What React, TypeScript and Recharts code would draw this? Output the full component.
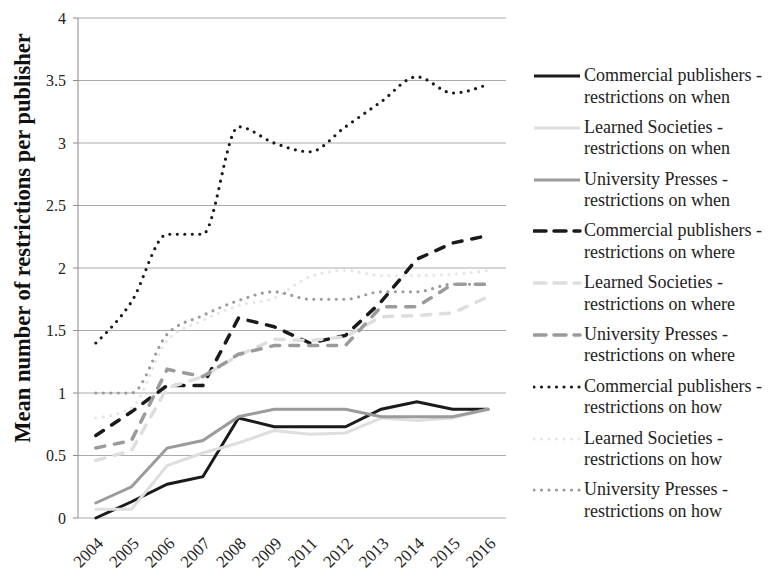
import { LineChart, Line, XAxis, YAxis, CartesianGrid, Legend } from 'recharts';

const years = ['2004', '2005', '2006', '2007', '2008', '2009', '2011', '2012', '2013', '2014', '2015', '2016'];
const yTicks = [0, 0.5, 1, 1.5, 2, 2.5, 3, 3.5, 4];

const commWhen = [0, 0.13, 0.27, 0.33, 0.8, 0.73, 0.73, 0.73, 0.87, 0.93, 0.87, 0.87];
const learnWhen = [0.07, 0.07, 0.42, 0.52, 0.6, 0.7, 0.67, 0.68, 0.8, 0.78, 0.8, 0.87];
const univWhen = [0.12, 0.25, 0.56, 0.62, 0.81, 0.87, 0.87, 0.87, 0.81, 0.81, 0.81, 0.87];
const commWhere = [0.66, 0.85, 1.06, 1.06, 1.6, 1.53, 1.4, 1.46, 1.73, 2.07, 2.2, 2.26];
const learnWhere = [0.46, 0.54, 1.04, 1.13, 1.3, 1.43, 1.42, 1.45, 1.61, 1.62, 1.64, 1.77];
const univWhere = [0.56, 0.62, 1.19, 1.13, 1.31, 1.38, 1.38, 1.38, 1.69, 1.69, 1.87, 1.87];
const commHow = [1.4, 1.73, 2.27, 2.27, 3.13, 3.0, 2.93, 3.13, 3.33, 3.53, 3.4, 3.47];
const learnHow = [0.8, 0.88, 1.42, 1.58, 1.7, 1.76, 1.93, 1.98, 1.94, 1.94, 1.95, 1.98];
const univHow = [1.0, 1.0, 1.47, 1.62, 1.74, 1.81, 1.75, 1.75, 1.81, 1.81, 1.87, 1.87];

const BLACK = '#1a1a1a';
const LIGHT = '#dedede';
const MID = '#9b9b9b';
const FONT = '"Liberation Serif", "Times New Roman", serif';

const DASH = '9 10';
const DOT = '0 7.5';

const series = [
  { key: 'commWhen', values: commWhen, name: ['Commercial publishers -', 'restrictions on when'], color: BLACK, dash: undefined, width: 3, type: 'linear' },
  { key: 'learnWhen', values: learnWhen, name: ['Learned Societies -', 'restrictions on when'], color: LIGHT, dash: undefined, width: 3, type: 'linear' },
  { key: 'univWhen', values: univWhen, name: ['University Presses -', 'restrictions on when'], color: MID, dash: undefined, width: 3, type: 'linear' },
  { key: 'commWhere', values: commWhere, name: ['Commercial publishers -', 'restrictions on where'], color: BLACK, dash: DASH, width: 3.5, type: 'linear' },
  { key: 'learnWhere', values: learnWhere, name: ['Learned Societies -', 'restrictions on where'], color: LIGHT, dash: DASH, width: 3.5, type: 'linear' },
  { key: 'univWhere', values: univWhere, name: ['University Presses -', 'restrictions on where'], color: MID, dash: DASH, width: 3.5, type: 'linear' },
  { key: 'commHow', values: commHow, name: ['Commercial publishers -', 'restrictions on how'], color: BLACK, dash: DOT, width: 3.2, type: 'monotone' },
  { key: 'learnHow', values: learnHow, name: ['Learned Societies -', 'restrictions on how'], color: '#e6e6e6', dash: DOT, width: 3.2, type: 'monotone' },
  { key: 'univHow', values: univHow, name: ['University Presses -', 'restrictions on how'], color: MID, dash: DOT, width: 3.2, type: 'monotone' },
];

const data = years.map((year, i) => {
  const row: Record<string, any> = { year };
  series.forEach(s => { row[s.key] = s.values[i]; });
  return row;
});

const boundaries = years.map((_, i) => i).concat(years.length);

const LegendBox = () => (
  <div style={{ fontFamily: FONT, fontSize: 18, color: '#222' }}>
    {series.map(s => (
      <div key={s.key} style={{ display: 'flex', alignItems: 'flex-start', height: 51.8 }}>
        <svg width={51} height={22} style={{ flex: 'none' }}>
          <line x1={1} y1={11} x2={47} y2={11} stroke={s.color} strokeWidth={s.width}
            strokeDasharray={s.dash === DASH ? '12 8' : s.dash} strokeLinecap={s.dash ? 'round' : 'butt'} />
        </svg>
        <div style={{ lineHeight: '21.5px', whiteSpace: 'nowrap' }}>
          {s.name[0]}<br />{s.name[1]}
        </div>
      </div>
    ))}
  </div>
);

const YTitle = (props: any) => {
  const vb = props.viewBox || { x: 0, y: 18, width: 78, height: 500 };
  const x = vb.x + 22;
  const y = vb.y + vb.height / 2 - 30;
  return (
    <text transform={`translate(${x},${y}) rotate(-90)`} textAnchor="middle" dominantBaseline="central"
      style={{ fontFamily: FONT, fontSize: 22.5, fontWeight: 'bold', fill: '#111' }}>
      Mean number of restrictions per publisher
    </text>
  );
};

export default function App() {
  return (
    <div style={{ position: 'absolute', left: 0, top: 0, width: 768, height: 572, background: '#fff' }}>
      <LineChart width={768} height={572} data={data} margin={{ top: 18, right: 27, bottom: 0, left: 0 }}>
        <CartesianGrid xAxisId="yr" vertical={false} stroke="#ababab" />
        <XAxis xAxisId="ticks" type="number" domain={[0, years.length]} ticks={boundaries} tick={false}
          tickSize={5} height={0} stroke="#8c8c8c" allowDataOverflow />
        <XAxis xAxisId="yr" dataKey="year" scale="band" interval={0} axisLine={false} tickLine={false}
          tickSize={5} tickMargin={13} angle={-45} textAnchor="end" height={54}
          tick={{ fill: '#222', fontSize: 17, fontFamily: FONT }} />
        <YAxis domain={[0, 4]} ticks={yTicks} width={78} tickSize={5} tickMargin={7} stroke="#8c8c8c"
          tick={{ fill: '#222', fontSize: 16, fontFamily: FONT }} label={{ content: YTitle }} />
        <Legend layout="vertical" align="right" verticalAlign="top" content={LegendBox}
          wrapperStyle={{ position: 'absolute', left: 533, top: 65, width: 235 }} />
        {series.map(s => (
          <Line key={s.key} xAxisId="yr" type={s.type as any} dataKey={s.key} stroke={s.color} strokeWidth={s.width}
            strokeDasharray={s.dash} strokeLinecap="round" dot={false} activeDot={false} isAnimationActive={false} />
        ))}
      </LineChart>
    </div>
  );
}
